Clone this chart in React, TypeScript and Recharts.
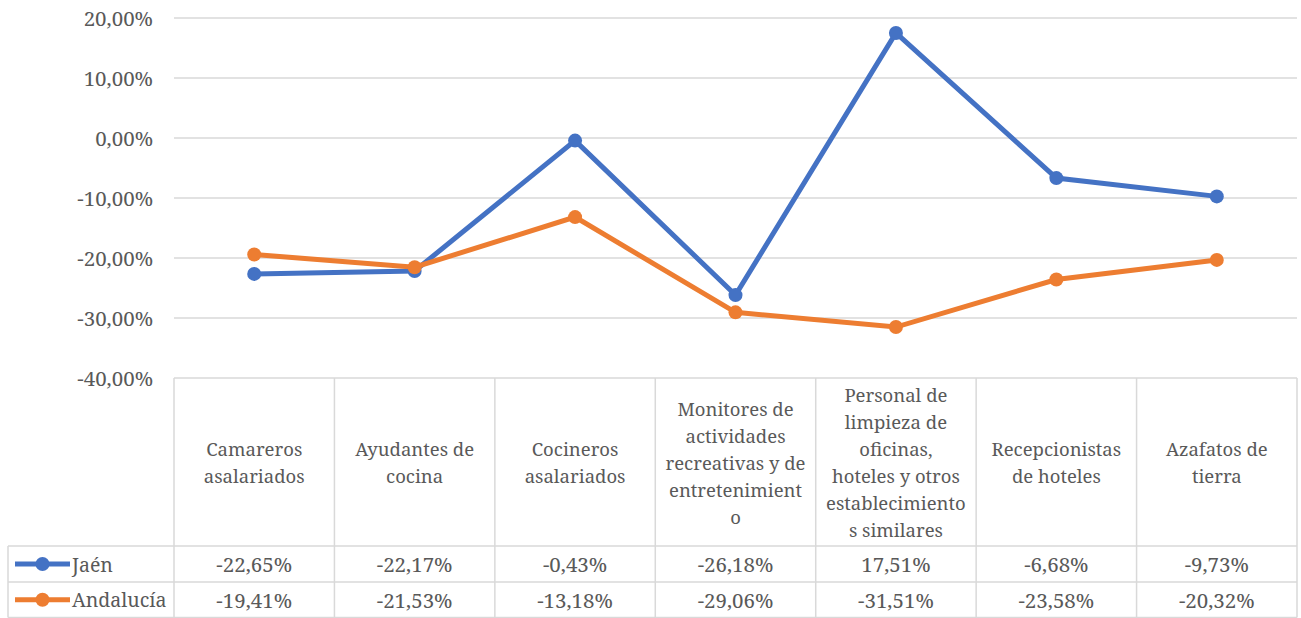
import { LineChart, Line, XAxis, YAxis, CartesianGrid } from "recharts";

const categories = [
  "Camareros\nasalariados",
  "Ayudantes de\ncocina",
  "Cocineros\nasalariados",
  "Monitores de\nactividades\nrecreativas y de\nentretenimient\no",
  "Personal de\nlimpieza de\noficinas,\nhoteles y otros\nestablecimiento\ns similares",
  "Recepcionistas\nde hoteles",
  "Azafatos de\ntierra",
];
const jaen = [-22.65, -22.17, -0.43, -26.18, 17.51, -6.68, -9.73];
const andalucia = [-19.41, -21.53, -13.18, -29.06, -31.51, -23.58, -20.32];
const yTicks = [-40, -30, -20, -10, 0, 10, 20];

const seriesNames = ["Jaén", "Andalucía"];
const seriesColors = ["#4472C4", "#ED7D31"];

const data = categories.map((name, i) => ({ name, jaen: jaen[i], andalucia: andalucia[i] }));

const W = 1301;
const H = 618;
const PLOT_LEFT = 174;
const PLOT_RIGHT = 1297;
const PLOT_TOP = 18;
const PLOT_BOTTOM = 378;
const ROW1 = 546;
const ROW2 = 582;
const ROW3 = 617.5;
const HALF = (PLOT_RIGHT - PLOT_LEFT) / categories.length / 2;
const GRID = "#d9d9d9";
const TEXT = "#595959";
const FONT = "'Noto Serif', 'Liberation Serif', 'DejaVu Serif', serif";
const numTxt = { fontFamily: FONT, fontSize: 20.5 };
const catTxt = { fontFamily: FONT, fontSize: 18.5 };
const legTxt = { fontFamily: FONT, fontSize: 19.5 };

const fmt = (v: number) => v.toFixed(2).replace(".", ",") + "%";

function YTick({ y, payload }: any) {
  return (
    <text x={153} y={y} textAnchor="end" dominantBaseline="central" fill={TEXT} style={numTxt}>
      {fmt(payload.value)}
    </text>
  );
}

function TableTick({ x, index }: any) {
  const lines = categories[index].split("\n");
  const mid = (PLOT_BOTTOM + ROW1) / 2;
  const lh = 27;
  const startY = mid - ((lines.length - 1) * lh) / 2;
  const rows = [jaen, andalucia];
  return (
    <g>
      {index === 0 && (
        <g>
          <line x1={8} y1={ROW1} x2={PLOT_RIGHT} y2={ROW1} stroke={GRID} strokeWidth={1.5} />
          <line x1={8} y1={ROW2} x2={PLOT_RIGHT} y2={ROW2} stroke={GRID} strokeWidth={1.5} />
          <line x1={8} y1={ROW3} x2={PLOT_RIGHT} y2={ROW3} stroke={GRID} strokeWidth={1.5} />
          <line x1={8} y1={ROW1} x2={8} y2={ROW3} stroke={GRID} strokeWidth={1.5} />
          {seriesNames.map((s, r) => {
            const cy = r === 0 ? (ROW1 + ROW2) / 2 : (ROW2 + ROW3) / 2;
            return (
              <g key={s}>
                <line x1={15} y1={cy} x2={70} y2={cy} stroke={seriesColors[r]} strokeWidth={5} />
                <circle cx={42.5} cy={cy} r={7} fill={seriesColors[r]} />
                <text x={72} y={cy} dominantBaseline="central" fill={TEXT} style={legTxt}>
                  {s}
                </text>
              </g>
            );
          })}
        </g>
      )}
      <line x1={x - HALF} y1={PLOT_BOTTOM} x2={x - HALF} y2={ROW3} stroke={GRID} strokeWidth={1.5} />
      {index === categories.length - 1 && (
        <line x1={x + HALF} y1={PLOT_BOTTOM} x2={x + HALF} y2={ROW3} stroke={GRID} strokeWidth={1.5} />
      )}
      {lines.map((l, k) => (
        <text key={k} x={x} y={startY + k * lh} textAnchor="middle" dominantBaseline="central" fill={TEXT} style={catTxt}>
          {l}
        </text>
      ))}
      {rows.map((vals, r) => (
        <text
          key={r}
          x={x}
          y={r === 0 ? (ROW1 + ROW2) / 2 : (ROW2 + ROW3) / 2}
          textAnchor="middle"
          dominantBaseline="central"
          fill={TEXT}
          style={numTxt}
        >
          {fmt(vals[index])}
        </text>
      ))}
    </g>
  );
}

export default function App() {
  return (
    <div style={{ position: "absolute", left: 0, top: 0, width: W, height: H, background: "#fff" }}>
      <LineChart
        width={W}
        height={H}
        data={data}
        margin={{ top: PLOT_TOP, right: W - PLOT_RIGHT, bottom: 0, left: 0 }}
        style={{ fontFamily: FONT }}
      >
        <CartesianGrid horizontal vertical={false} stroke={GRID} strokeWidth={1.5} />
        <XAxis
          dataKey="name"
          height={H - PLOT_BOTTOM}
          axisLine={false}
          tickLine={false}
          interval={0}
          padding={{ left: HALF, right: HALF }}
          tick={<TableTick />}
        />
        <YAxis
          width={PLOT_LEFT}
          domain={[-40, 20]}
          ticks={yTicks}
          axisLine={false}
          tickLine={false}
          tick={<YTick />}
        />
        <Line
          dataKey="jaen"
          name={seriesNames[0]}
          stroke={seriesColors[0]}
          strokeWidth={5}
          dot={{ r: 7, fill: seriesColors[0], stroke: seriesColors[0], strokeWidth: 0 }}
          isAnimationActive={false}
        />
        <Line
          dataKey="andalucia"
          name={seriesNames[1]}
          stroke={seriesColors[1]}
          strokeWidth={5}
          dot={{ r: 7, fill: seriesColors[1], stroke: seriesColors[1], strokeWidth: 0 }}
          isAnimationActive={false}
        />
      </LineChart>
    </div>
  );
}
